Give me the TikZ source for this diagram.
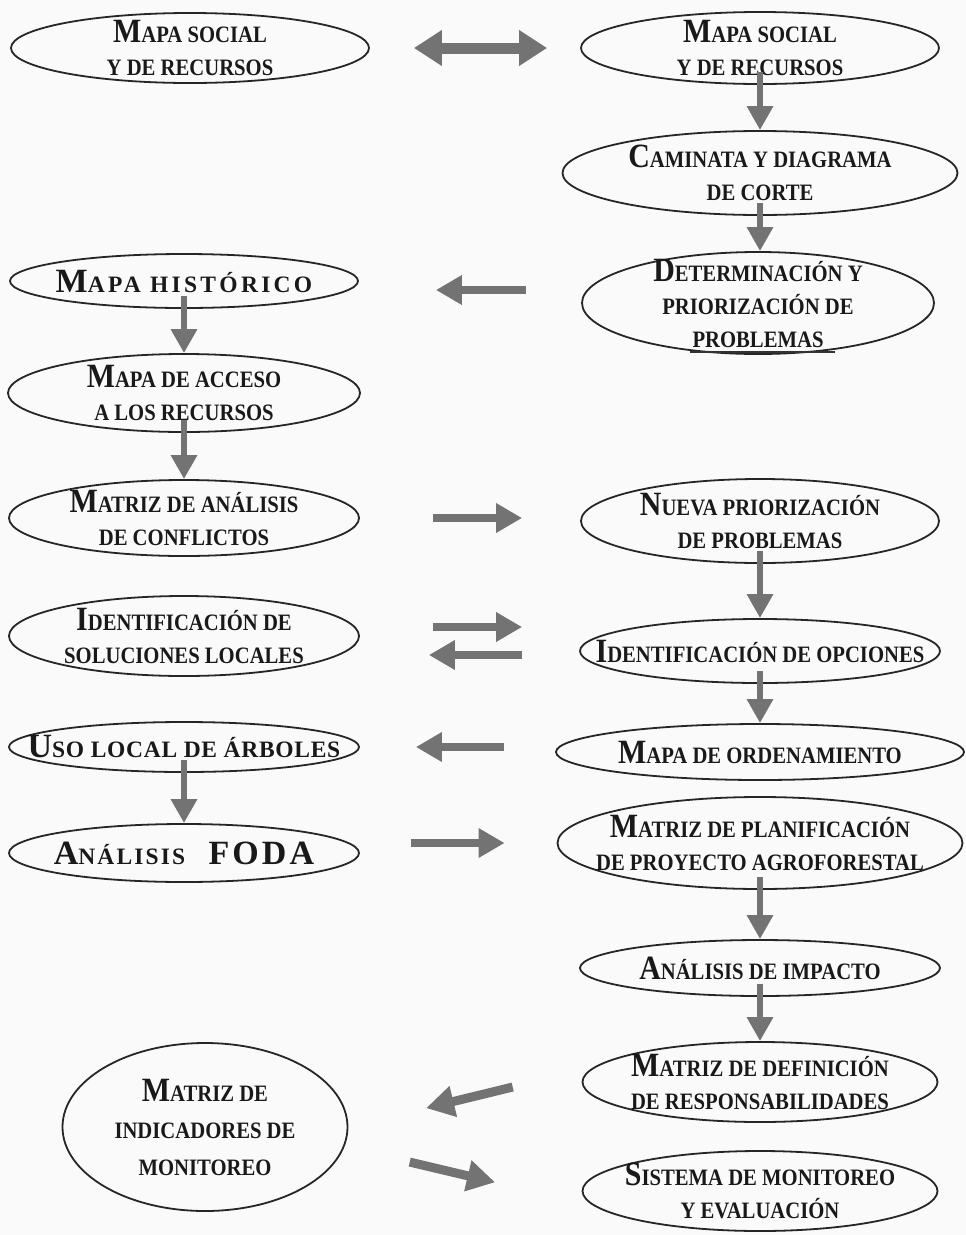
\documentclass[tikz,border=0pt]{standalone}
\usepackage{fontspec}
\usepackage{tikz}
\usetikzlibrary{shapes.geometric, arrows.meta}

\newfontfamily\cajafont{Liberation Serif}[FakeStretch=0.88]
\newfontfamily\anchafont{Liberation Serif}
\newcommand{\may}[1]{{\fontsize{34}{34}\selectfont #1}}

\begin{document}
\begin{tikzpicture}[
        x=1pt, y=-1pt,
        caja/.style={ellipse, draw=black!85, line width=1.8pt, inner sep=0pt},
        texto/.style={font=\cajafont\bfseries\fontsize{23.5}{33}\selectfont, align=center, text=black!90},
        ancho/.style={texto, font=\anchafont\bfseries\fontsize{23.5}{33}\selectfont\addfontfeatures{LetterSpace=#1}},
        flecha/.style={draw=black!55, line width=8pt, -{Triangle[width=28pt, length=26pt]}},
        bajada/.style={draw=black!55, line width=6pt, -{Triangle[width=25pt, length=24pt]}, shorten <=-13pt},
        doble/.style={draw=black!55, line width=11pt, {Triangle[width=34pt, length=28pt]}-{Triangle[width=34pt, length=28pt]}},
        diagonal/.style={draw=black!55, line width=9pt, -{Triangle[width=30pt, length=28pt]}}
    ]
    \useasboundingbox[fill=black!2] (0,0) rectangle (966,1235);

    % Columna derecha
    \node[caja, minimum width=358pt, minimum height=72pt, label={[texto]center:{\may{M}APA SOCIAL\\Y DE RECURSOS}}] (R1) at (760,48) {};
    \node[caja, minimum width=395pt, minimum height=84pt, label={[texto]center:{\may{C}AMINATA Y DIAGRAMA\\DE CORTE}}] (R2) at (760,173) {};
    \node[caja, minimum width=352pt, minimum height=102pt, label={[texto, font=\cajafont\bfseries\fontsize{23.5}{33}\selectfont]center:{\may{D}ETERMINACIÓN Y\\PRIORIZACIÓN DE\\PROBLEMAS}}] (R3) at (758,303) {};
    \node[caja, minimum width=358pt, minimum height=84pt, label={[texto]center:{\may{N}UEVA PRIORIZACIÓN\\DE PROBLEMAS}}] (R4) at (760,521) {};
    \node[caja, minimum width=360pt, minimum height=64pt, label={[texto]center:{\may{I}DENTIFICACIÓN DE OPCIONES}}] (R5) at (760,651) {};
    \node[caja, minimum width=408pt, minimum height=56pt, label={[texto]center:{\may{M}APA DE ORDENAMIENTO}}] (R6) at (760,752) {};
    \node[caja, minimum width=405pt, minimum height=92pt, label={[texto]center:{\may{M}ATRIZ DE PLANIFICACIÓN\\DE PROYECTO AGROFORESTAL}}] (R7) at (760,843) {};
    \node[caja, minimum width=360pt, minimum height=56pt, label={[texto]center:{\may{A}NÁLISIS DE IMPACTO}}] (R8) at (760,968) {};
    \node[caja, minimum width=355pt, minimum height=80pt, label={[texto]center:{\may{M}ATRIZ DE DEFINICIÓN\\DE RESPONSABILIDADES}}] (R9) at (760,1082) {};
    \node[caja, minimum width=355pt, minimum height=80pt, label={[texto]center:{\may{S}ISTEMA DE MONITOREO\\Y EVALUACIÓN}}] (R10) at (760,1191) {};

    % Columna izquierda
    \node[caja, minimum width=358pt, minimum height=70pt, label={[texto]center:{\may{M}APA SOCIAL\\Y DE RECURSOS}}] (L1) at (190,48) {};
    \node[caja, minimum width=348pt, minimum height=54pt, label={[ancho=14]center:{\may{M}APA HISTÓRICO}}] (L2) at (184,281) {};
    \node[caja, minimum width=352pt, minimum height=78pt, label={[texto]center:{\may{M}APA DE ACCESO\\A LOS RECURSOS}}] (L3) at (184,393) {};
    \node[caja, minimum width=350pt, minimum height=76pt, label={[texto]center:{\may{M}ATRIZ DE ANÁLISIS\\DE CONFLICTOS}}] (L4) at (184,518) {};
    \node[caja, minimum width=350pt, minimum height=80pt, label={[texto]center:{\may{I}DENTIFICACIÓN DE\\SOLUCIONES LOCALES}}] (L5) at (184,636) {};
    \node[caja, minimum width=350pt, minimum height=50pt, label={[ancho=3]center:{\may{U}SO LOCAL DE ÁRBOLES}}] (L6) at (184,747) {};
    \node[caja, minimum width=350pt, minimum height=58pt, label={[ancho=9]center:{\may{A}NÁLISIS\quad\may{FODA}}}] (L7) at (184,853) {};
    \node[caja, minimum width=285pt, minimum height=168pt, label={[texto, font=\cajafont\bfseries\fontsize{23.5}{37}\selectfont]center:{\may{M}ATRIZ DE\\INDICADORES DE\\MONITOREO}}] (L8) at (205,1127) {};

    % Raya bajo problemas
    \draw[line width=2.5pt, black!80] ([xshift=-68pt, yshift=3pt]R3.south) -- ([xshift=77pt, yshift=3pt]R3.south);

    % Flechas verticales
    \draw[bajada] (R1.south) -- (R2.north);
    \draw[bajada] (R2.south) -- (R3.north -| R2.south);
    \draw[bajada] (L2.south) -- (L3.north);
    \draw[bajada] (L3.south) -- (L4.north);
    \draw[bajada] (R4.south) -- (R5.north);
    \draw[bajada] (R5.south) -- (R6.north);
    \draw[bajada] (L6.south) -- (L7.north);
    \draw[bajada] (R7.south) -- (R8.north);
    \draw[bajada] (R8.south) -- (R9.north);

    % Flechas horizontales
    \draw[doble, shorten <=44pt, shorten >=33pt] (L1.east) -- (R1.west);
    \coordinate (r3) at ([yshift=13pt]R3.west);
    \draw[flecha, shorten <=55pt, shorten >=77pt] (r3) -- (r3 -| L2.east);
    \draw[flecha, shorten <=73pt, shorten >=58pt] (L4.east) -- (L4.east -| R4.west);
    \coordinate (ida) at ([yshift=9pt]L5.east);
    \draw[flecha, shorten <=73pt, shorten >=57pt] (ida) -- (ida -| R5.west);
    \coordinate (vuelta) at ([yshift=-4pt]R5.west);
    \draw[flecha, shorten <=57pt, shorten >=69pt] (vuelta) -- (vuelta -| L5.east);
    \draw[flecha, shorten <=51pt, shorten >=56pt] (L6.east -| R6.west) -- (L6.east);
    \draw[flecha, shorten <=51pt, shorten >=52pt] (R7.west -| L7.east) -- (R7.west);

    % Flechas diagonales
    \draw[diagonal, shorten <=83pt, shorten >=80pt] (R9.175) -- (L8.east);
    \draw[diagonal, shorten <=67pt, shorten >=101pt] (L8.-8) -- (R10.185);
\end{tikzpicture}
\end{document}
